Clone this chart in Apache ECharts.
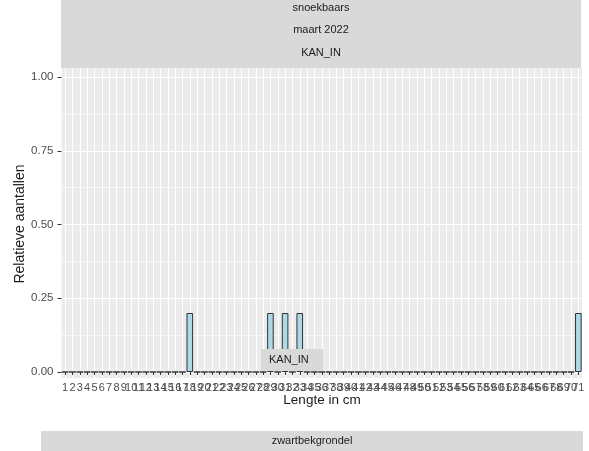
<!DOCTYPE html>
<html>
<head>
<meta charset="utf-8">
<script src="https://cdn.jsdelivr.net/npm/echarts@6/dist/echarts.min.js"></script>
<style>
  html, body { margin: 0; padding: 0; background: #ffffff; }
  #chart { width: 589px; height: 451px; }
</style>
</head>
<body>
<div id="chart"></div>
<script>
// Length classes (cm) on the x axis
const lengthClasses = [
  '1','2','3','4','5','6','7','8','9','10',
  '11','12','13','14','15','16','17','18','19','20',
  '21','22','23','24','25','26','27','28','29','30',
  '31','32','33','34','35','36','37','38','39','40',
  '41','42','43','44','45','46','47','48','49','50',
  '51','52','53','54','55','56','57','58','59','60',
  '61','62','63','64','65','66','67','68','69','70',
  '71'
];

// Relative counts per length class (snoekbaars, maart 2022, KAN_IN)
const relativeCounts = [
  0, 0, 0, 0, 0, 0, 0, 0, 0, 0,
  0, 0, 0, 0, 0, 0, 0, 0.2, 0, 0,
  0, 0, 0, 0, 0, 0, 0, 0, 0.2, 0,
  0.2, 0, 0.2, 0, 0, 0, 0, 0, 0, 0,
  0, 0, 0, 0, 0, 0, 0, 0, 0, 0,
  0, 0, 0, 0, 0, 0, 0, 0, 0, 0,
  0, 0, 0, 0, 0, 0, 0, 0, 0, 0,
  0.2
];

// Y tick labels and minor grid positions
const yTicks = [0, 0.25, 0.5, 0.75, 1];
const yMinorTicks = [0.125, 0.375, 0.625, 0.875];

// Strip labels
const stripLabels = ['snoekbaars', 'maart 2022', 'KAN_IN'];
const bottomStripLabel = 'zwartbekgrondel';
const boxLabel = 'KAN_IN';

const PANEL_LEFT = 61.5, PANEL_RIGHT = 582, PANEL_TOP = 68, PANEL_BOTTOM = 378;
const Y_MIN = -0.0203, Y_MAX = 1.0305;
const FONT = 'Liberation Sans, Arial, sans-serif';

const chart = echarts.init(document.getElementById('chart'));

chart.setOption({
  backgroundColor: '#ffffff',
  animation: false,
  grid: {
    left: PANEL_LEFT,
    top: PANEL_TOP,
    width: PANEL_RIGHT - PANEL_LEFT,
    height: PANEL_BOTTOM - PANEL_TOP,
    show: true,
    backgroundColor: '#ebebeb',
    borderWidth: 0
  },
  xAxis: {
    type: 'category',
    data: lengthClasses,
    boundaryGap: true,
    axisLine: { show: false },
    axisTick: { show: true, interval: 0, alignWithLabel: true, length: 3, lineStyle: { color: '#333333', width: 1 } },
    axisLabel: { interval: 0, color: '#4d4d4d', fontSize: 11, fontFamily: FONT, margin: 4 },
    splitLine: { show: true, interval: 0, alignWithLabel: true, lineStyle: { color: '#ffffff', width: 1 } }
  },
  yAxis: [
    {
      type: 'value',
      min: Y_MIN,
      max: Y_MAX,
      axisLine: { show: false },
      axisTick: { show: true, length: 4, lineStyle: { color: '#333333', width: 1 }, customValues: yTicks },
      axisLabel: {
        customValues: yTicks,
        color: '#4d4d4d',
        fontSize: 11.5,
        fontFamily: FONT,
        margin: 8,
        formatter: function (v) { return v.toFixed(2); }
      },
      splitLine: { show: true, lineStyle: { color: '#ffffff', width: 1.2 } }
    },
    {
      type: 'value',
      min: Y_MIN,
      max: Y_MAX,
      position: 'left',
      axisLine: { show: false },
      axisTick: { show: false, customValues: yMinorTicks },
      axisLabel: { show: false, customValues: yMinorTicks },
      splitLine: { show: true, lineStyle: { color: '#ffffff', width: 0.6 } }
    }
  ],
  series: [
    {
      type: 'bar',
      data: relativeCounts,
      barWidth: '90%',
      itemStyle: { color: '#add8e6', borderColor: '#333333', borderWidth: 1 },
      z: 3
    }
  ],
  graphic: [
    // top facet strip
    { type: 'rect', left: 61, top: 0, z: 10, shape: { width: 520, height: 68 }, style: { fill: '#d9d9d9' } },
    { type: 'text', x: 321, y: 8, z: 11, style: { text: stripLabels[0], fill: '#1a1a1a', font: '11px ' + FONT, align: 'center', verticalAlign: 'middle' } },
    { type: 'text', x: 321, y: 30, z: 11, style: { text: stripLabels[1], fill: '#1a1a1a', font: '11px ' + FONT, align: 'center', verticalAlign: 'middle' } },
    { type: 'text', x: 321, y: 53, z: 11, style: { text: stripLabels[2], fill: '#1a1a1a', font: '11px ' + FONT, align: 'center', verticalAlign: 'middle' } },
    // label box over the panel
    { type: 'rect', left: 261, top: 349, z: 10, shape: { width: 62, height: 22 }, style: { fill: '#d9d9d9' } },
    { type: 'text', x: 269, y: 360, z: 11, style: { text: boxLabel, fill: '#1a1a1a', font: '11px ' + FONT, align: 'left', verticalAlign: 'middle' } },
    // axis titles
    { type: 'text', x: 20, y: 224, rotation: Math.PI / 2, z: 11, style: { text: 'Relatieve aantallen', fill: '#1a1a1a', font: '14px ' + FONT, align: 'center', verticalAlign: 'middle' } },
    { type: 'text', x: 322, y: 400, z: 11, style: { text: 'Lengte in cm', fill: '#1a1a1a', font: '13.5px ' + FONT, align: 'center', verticalAlign: 'middle' } },
    // bottom facet strip
    { type: 'rect', left: 41, top: 431, z: 10, shape: { width: 542, height: 20 }, style: { fill: '#d9d9d9' } },
    { type: 'text', x: 312, y: 441, z: 11, style: { text: bottomStripLabel, fill: '#1a1a1a', font: '11px ' + FONT, align: 'center', verticalAlign: 'middle' } }
  ]
});
</script>
</body>
</html>
